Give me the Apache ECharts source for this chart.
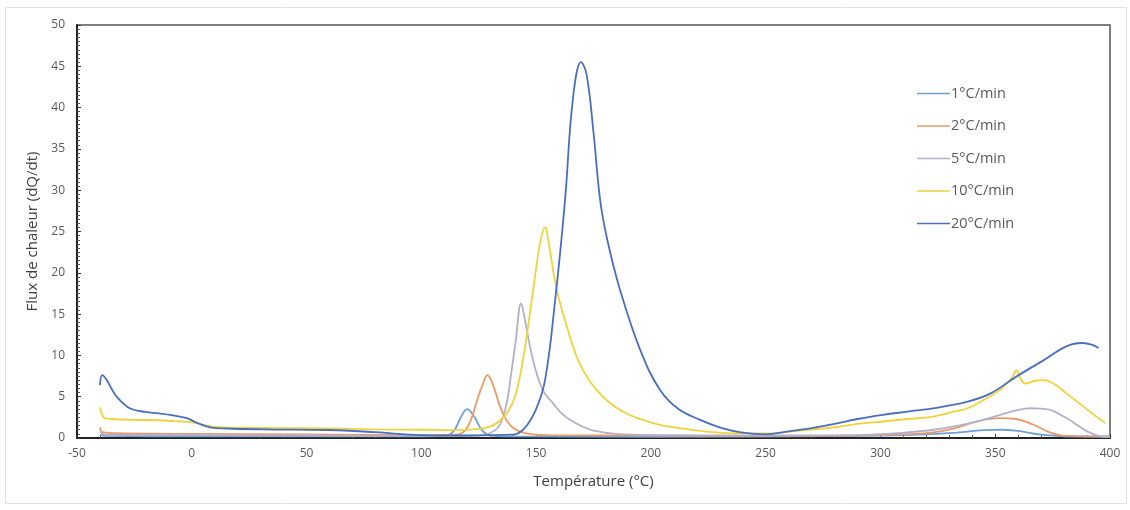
<!DOCTYPE html>
<html>
<head>
<meta charset="utf-8">
<script src="https://cdn.jsdelivr.net/npm/echarts@6/dist/echarts.min.js"></script>
<style>
html,body{margin:0;padding:0;background:#fff;}
#chart{width:1130px;height:510px;}
</style>
</head>
<body>
<div id="chart"></div>
<script>
// ---- Data ----
const seriesNames = ['1°C/min', '2°C/min', '5°C/min', '10°C/min', '20°C/min'];

const temp1 = [-40, -38, 0, 50, 100, 110, 114, 117, 120, 123, 126, 129, 135, 200, 300, 330, 345, 352, 360, 370, 380, 400];
const flux1 = [0.4, 0.25, 0.2, 0.2, 0.2, 0.25, 0.8, 2.4, 3.5, 2.6, 1.1, 0.4, 0.2, 0.15, 0.3, 0.6, 0.95, 1.0, 0.85, 0.4, 0.2, 0.15];

const temp2 = [-40, -39, -35, 0, 50, 100, 115, 119, 122, 124, 126.5, 128.8, 131, 134.3, 137, 140, 145, 155, 200, 250, 300, 320, 330, 342, 352, 359, 366.7, 374, 381, 400];
const flux2 = [1.3, 0.7, 0.6, 0.5, 0.45, 0.35, 0.4, 0.9, 2.5, 4.3, 6.3, 7.6, 6.6, 3.8, 2.2, 1.2, 0.6, 0.35, 0.3, 0.25, 0.35, 0.6, 1.0, 2.0, 2.4, 2.3, 1.6, 0.65, 0.25, 0.2];

const temp5 = [-40, -38, 0, 50, 100, 125, 130, 134, 137, 139, 141, 143.5, 145, 147.4, 149.5, 151.7, 154, 157.4, 161, 164.8, 170, 175, 185, 200, 250, 290, 308.6, 323, 337.7, 352.2, 360, 365.3, 370, 374, 381.2, 386, 390, 395.8, 400];
const flux5 = [0.8, 0.4, 0.35, 0.3, 0.25, 0.3, 0.6, 1.5, 4, 7.5, 11.5, 16.3, 14.5, 11, 8.5, 6.6, 5.3, 4.2, 3.0, 2.2, 1.4, 0.9, 0.5, 0.35, 0.3, 0.35, 0.6, 1.0, 1.7, 2.8, 3.4, 3.6, 3.55, 3.4, 2.4, 1.5, 0.8, 0.2, 0.1];

const temp10 = [-40, -39, -38, -35, -27, -15, -5, 0, 5, 10, 20, 40, 60, 80, 100, 115, 125, 131, 135, 138, 141, 144, 147, 150, 152, 153.8, 156, 159, 163.4, 169, 176.4, 186.6, 201, 215, 225, 240, 250, 265, 280, 290, 301, 312, 323, 332, 338, 345, 352, 357, 359.4, 361, 363, 367, 371, 375.4, 381, 388.5, 393, 398];
const flux10 = [3.7, 2.8, 2.4, 2.3, 2.2, 2.15, 2.0, 1.9, 1.6, 1.35, 1.25, 1.2, 1.15, 1.05, 1.0, 0.95, 1.1, 1.5, 2.3, 3.3, 5.2, 9, 14.5, 20.5, 24, 25.5, 22.7, 17.9, 13.5, 9, 5.8, 3.4, 1.8, 1.1, 0.75, 0.55, 0.55, 0.9, 1.3, 1.7, 2.0, 2.3, 2.6, 3.2, 3.6, 4.6, 5.8, 7.2, 8.2, 7.2, 6.6, 6.9, 7.0, 6.6, 5.4, 3.8, 2.8, 1.8];

const temp20 = [-40, -39, -37, -35, -32.7, -27, -20, -15, -9.5, -2.2, 2.2, 8, 15, 31, 60, 80, 100, 120, 140, 145, 150, 153.9, 158.3, 162.6, 166, 169.6, 172, 175, 177.9, 181, 186.6, 195.3, 204, 212, 221.5, 231, 240, 250, 260, 270, 280, 290, 301, 312, 323, 338, 348, 359, 371, 381, 388, 392, 395];
const flux20 = [6.4, 7.6, 7.0, 6.0, 5.0, 3.6, 3.15, 3.0, 2.8, 2.4, 1.85, 1.3, 1.15, 1.05, 0.97, 0.7, 0.35, 0.3, 0.4, 1.2, 3.5, 7, 16.7, 28.8, 41, 45.5, 44, 37, 28.8, 24, 17.9, 10.7, 5.8, 3.5, 2.2, 1.2, 0.65, 0.45, 0.8, 1.2, 1.7, 2.3, 2.8, 3.2, 3.6, 4.4, 5.4, 7.4, 9.4, 11.1, 11.5, 11.3, 10.9];

const seriesTemps = [temp1, temp2, temp5, temp10, temp20];
const seriesFlux = [flux1, flux2, flux5, flux10, flux20];
const seriesColors = ['#6f9fd8', '#e89a68', '#b4b0cc', '#f2d23c', '#4a6fc0'];

const xTickMin = -50, xTickMax = 400, xTickStep = 50;
const yTickMin = 0, yTickMax = 50, yTickStep = 5;

const font = '"Open Sans", Lato, sans-serif';

const chart = echarts.init(document.getElementById('chart'), null, {renderer: 'canvas'});

const series = seriesNames.map((name, i) => ({
  name: name,
  type: 'line',
  data: seriesTemps[i].map((t, k) => [t, seriesFlux[i][k]]),
  showSymbol: false,
  symbol: 'none',
  smooth: 0.4,
  lineStyle: {color: seriesColors[i], width: 1.8},
  itemStyle: {color: seriesColors[i]},
  z: 2 + i
}));

chart.setOption({
  animation: false,
  backgroundColor: '#ffffff',
  graphic: [{
    type: 'rect',
    shape: {x: 5.5, y: 7.5, width: 1121, height: 496},
    style: {fill: 'none', stroke: '#e2e2e2', lineWidth: 1},
    silent: true, z: -1
  }],
  grid: {
    left: 77, right: 20, top: 25, bottom: 72,
    show: true, borderColor: '#555555', borderWidth: 1.5, backgroundColor: 'transparent'
  },
  legend: {
    orient: 'vertical',
    left: 912, top: 81,
    icon: 'rect',
    itemWidth: 33, itemHeight: 1.5,
    itemGap: 17.5,
    textStyle: {color: '#595959', fontSize: 14.5, fontFamily: font, padding: [0, 0, 0, -4]},
    data: seriesNames
  },
  xAxis: {
    type: 'value',
    min: xTickMin, max: xTickMax, interval: xTickStep,
    name: 'Température (°C)',
    nameLocation: 'middle', nameGap: 36,
    nameTextStyle: {color: '#404040', fontSize: 15, fontFamily: font},
    axisLine: {show: true, onZero: false, lineStyle: {color: '#222222', width: 2}},
    axisTick: {show: true, inside: true, length: 4, lineStyle: {color: '#333333'}},
    minorTick: {show: true, splitNumber: 5, length: 3, lineStyle: {color: '#555555'}},
    axisLabel: {color: '#595959', fontSize: 12, fontFamily: font, margin: 10},
    splitLine: {show: false}
  },
  yAxis: {
    type: 'value',
    min: yTickMin, max: yTickMax, interval: yTickStep,
    name: 'Flux de chaleur (dQ/dt)',
    nameLocation: 'middle', nameGap: 33, nameRotate: 90,
    nameTextStyle: {color: '#404040', fontSize: 15, fontFamily: font},
    axisLine: {show: true, onZero: false, lineStyle: {color: '#222222', width: 2}},
    axisTick: {show: true, inside: true, length: 4, lineStyle: {color: '#333333'}},
    minorTick: {show: true, splitNumber: 10, length: 3, lineStyle: {color: '#555555'}},
    axisLabel: {color: '#595959', fontSize: 12, fontFamily: font, margin: 12},
    splitLine: {show: false}
  },
  series: series
});
</script>
</body>
</html>
